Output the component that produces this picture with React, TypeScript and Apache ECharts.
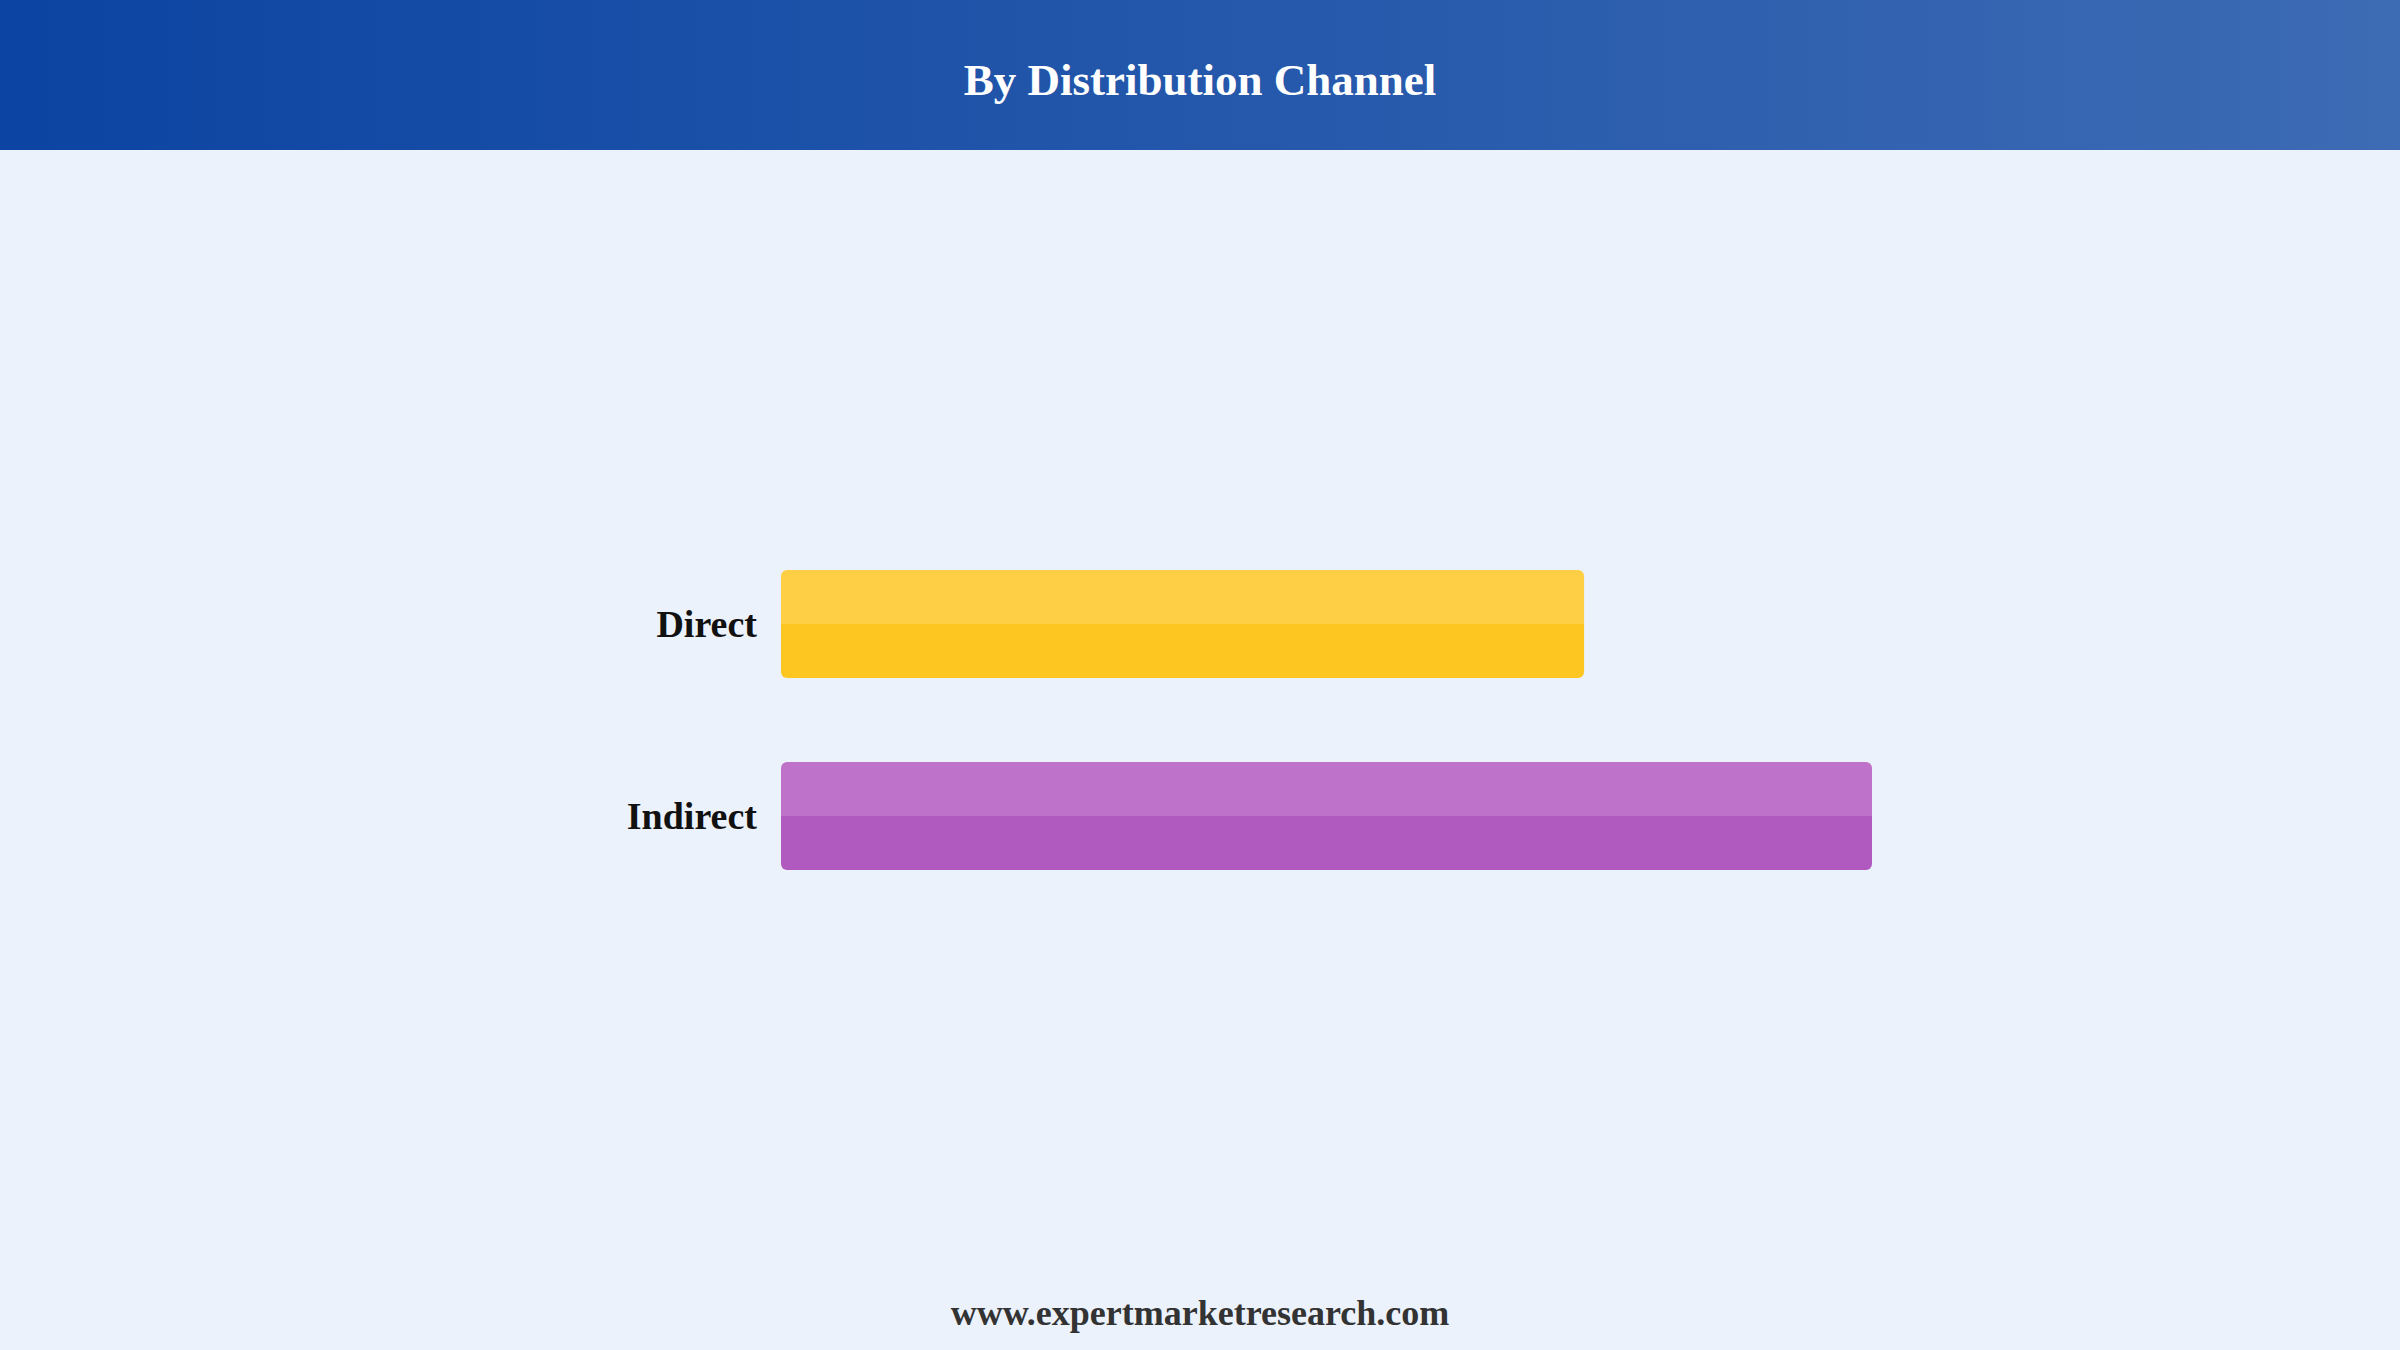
import { useEffect, useRef } from "react";
import * as echarts from "echarts";

const categories = ["Direct", "Indirect"];
const shares = [42.4, 57.6];
const barTopColors = ["#FECE45", "#BF72C9"];
const barBottomColors = ["#FDC621", "#B05ABF"];

const titleText = "By Distribution Channel";
const footerText = "www.expertmarketresearch.com";
const serif = "'Times New Roman', 'Liberation Serif', serif";

export default function App() {
  const chartRef = useRef<HTMLDivElement>(null);

  useEffect(() => {
    if (!chartRef.current) return;
    const chart = echarts.init(chartRef.current, null, { renderer: "svg" });

    const option: echarts.EChartsOption = {
      animation: false,
      backgroundColor: "#EBF2FB",
      graphic: [
        {
          type: "rect",
          left: 0,
          top: 0,
          shape: { width: 2400, height: 150 },
          style: {
            fill: new echarts.graphic.LinearGradient(0, 0, 1, 0, [
              { offset: 0, color: "#0B44A2" },
              { offset: 1, color: "#3D6BB4" }
            ])
          },
          z: 0
        },
        {
          type: "text",
          left: "center",
          top: 57,
          style: {
            text: titleText,
            fill: "#FFFFFF",
            font: `bold 45px ${serif}`
          },
          z: 1
        },
        {
          type: "text",
          left: "center",
          top: 1295,
          style: {
            text: footerText,
            fill: "#333333",
            font: `bold 36px ${serif}`
          },
          z: 1
        }
      ],
      grid: {
        left: 781,
        right: 528,
        top: 528,
        bottom: 438,
        containLabel: false
      },
      xAxis: {
        type: "value",
        min: 0,
        max: "dataMax",
        show: false
      },
      yAxis: {
        type: "category",
        data: categories,
        inverse: true,
        axisLine: { show: false },
        axisTick: { show: false },
        splitLine: { show: false },
        axisLabel: {
          margin: 24,
          color: "#111111",
          fontSize: 38,
          fontWeight: "bold",
          fontFamily: serif
        }
      },
      series: [
        {
          type: "bar",
          barWidth: 108,
          data: shares.map((v, i) => ({
            value: v,
            itemStyle: {
              color: new echarts.graphic.LinearGradient(0, 0, 0, 1, [
                { offset: 0, color: barTopColors[i] },
                { offset: 0.5, color: barTopColors[i] },
                { offset: 0.5, color: barBottomColors[i] },
                { offset: 1, color: barBottomColors[i] }
              ]),
              borderRadius: 6
            }
          }))
        }
      ]
    };

    chart.setOption(option);

    const handleResize = () => chart.resize();
    window.addEventListener("resize", handleResize);
    return () => {
      window.removeEventListener("resize", handleResize);
      chart.dispose();
    };
  }, []);

  return (
    <div
      ref={chartRef}
      style={{ position: "fixed", left: 0, top: 0, width: "2400px", height: "1350px" }}
    />
  );
}
